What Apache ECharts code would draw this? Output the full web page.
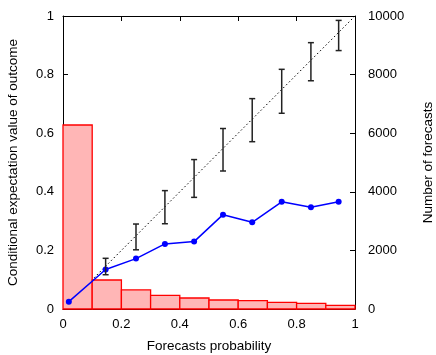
<!DOCTYPE html>
<html><head><meta charset="utf-8">
<script src="https://cdn.jsdelivr.net/npm/echarts@6/dist/echarts.min.js"></script>
<style>html,body{margin:0;padding:0;background:#fff}#c{width:436px;height:355px}</style>
</head><body><div id="c"></div>
<script>
// Histogram bins (forecast probability) and counts
var binStart = [0.0, 0.1, 0.2, 0.3, 0.4, 0.5, 0.6, 0.7, 0.8, 0.9];
var binEnd   = [0.1, 0.2, 0.3, 0.4, 0.5, 0.6, 0.7, 0.8, 0.9, 1.0];
var binCount = [6280, 990, 650, 465, 375, 307, 283, 225, 191, 123];
// Conditional expectation (blue line)
var probX = [0.02, 0.146, 0.25, 0.349, 0.449, 0.548, 0.648, 0.749, 0.849, 0.944];
var condY = [0.025, 0.135, 0.172, 0.222, 0.23, 0.322, 0.296, 0.366, 0.347, 0.366];
// Error bars around the diagonal
var errX  = [0.146, 0.25, 0.349, 0.449, 0.548, 0.648, 0.749, 0.849, 0.944];
var errLo = [0.117, 0.202, 0.291, 0.381, 0.471, 0.571, 0.668, 0.779, 0.882];
var errHi = [0.173, 0.290, 0.404, 0.510, 0.616, 0.718, 0.818, 0.909, 0.985];
var xTicks = ['0', '0.2', '0.4', '0.6', '0.8', '1'];
var rightTicks = ['0', '2000', '4000', '6000', '8000', '10000'];

var FONT = 'Liberation Sans, Arial, sans-serif';
var chart = echarts.init(document.getElementById('c'), null, {renderer: 'canvas'});
var histData = binStart.map(function (s, i) { return [s, binEnd[i], binCount[i]]; });
var lineData = probX.map(function (x, i) { return [x, condY[i]]; });
var errData = errX.map(function (x, i) { return [x, errLo[i], errHi[i]]; });

var axisLine = {show: true, onZero: false, lineStyle: {color: '#000', width: 1}};
var axisTick = {show: true, inside: true, length: 5, lineStyle: {color: '#000', width: 1}};
var lbl = {color: '#000', fontSize: 13, fontFamily: FONT};
var nameStyle = {color: '#000', fontSize: 13.5, fontFamily: FONT};

chart.setOption({
  animation: false,
  backgroundColor: '#fff',
  grid: {left: 63, right: 81, top: 16, bottom: 46, containLabel: false, outerBoundsMode: 'none'},
  xAxis: [{
    type: 'value', min: 0, max: 1, interval: 0.2, position: 'bottom',
    axisLine: axisLine, axisTick: axisTick, splitLine: {show: false},
    axisLabel: Object.assign({margin: 9, formatter: function (v) { return xTicks[Math.round(v / 0.2)]; }}, lbl),
    name: 'Forecasts probability', nameLocation: 'middle', nameGap: 30,
    nameTextStyle: nameStyle
  }, {
    type: 'value', min: 0, max: 1, interval: 0.2, position: 'top',
    axisLine: axisLine, axisTick: axisTick, splitLine: {show: false}, axisLabel: {show: false}
  }],
  yAxis: [{
    type: 'value', min: 0, max: 1, interval: 0.2, position: 'left',
    axisLine: axisLine, axisTick: axisTick, splitLine: {show: false},
    axisLabel: Object.assign({margin: 9}, lbl),
    name: 'Conditional expectation value of outcome', nameLocation: 'middle', nameGap: 43,
    nameTextStyle: nameStyle
  }, {
    type: 'value', min: 0, max: 10000, interval: 2000, position: 'right',
    axisLine: axisLine, axisTick: axisTick, splitLine: {show: false},
    axisLabel: Object.assign({margin: 13, formatter: function (v) { return rightTicks[Math.round(v / 2000)]; }}, lbl),
    name: 'Number of forecasts', nameLocation: 'middle', nameGap: 66,
    nameTextStyle: nameStyle
  }],
  series: [{
    type: 'line', xAxisIndex: 0, yAxisIndex: 0, z: 1,
    data: [[0, 0], [1, 1]], symbol: 'none',
    lineStyle: {color: '#000', width: 1, type: [1.5, 2.5]}
  }, {
    type: 'custom', xAxisIndex: 0, yAxisIndex: 1, z: 2,
    data: histData,
    encode: {x: [0, 1], y: 2},
    renderItem: function (params, api) {
      var p0 = api.coord([api.value(0), 0]);
      var p1 = api.coord([api.value(1), api.value(2)]);
      return {type: 'rect', shape: {x: p0[0], y: p1[1], width: p1[0] - p0[0], height: p0[1] - p1[1]},
        style: {fill: '#ffb6b6', stroke: '#ff0000', lineWidth: 1.3}};
    }
  }, {
    type: 'line', xAxisIndex: 0, yAxisIndex: 0, z: 4,
    data: lineData, symbol: 'circle', symbolSize: 6,
    itemStyle: {color: '#0000ff'},
    lineStyle: {color: '#0000ff', width: 1.5}
  }, {
    type: 'custom', xAxisIndex: 0, yAxisIndex: 0, z: 5,
    data: errData,
    encode: {x: 0, y: [1, 2]},
    renderItem: function (params, api) {
      var x = api.value(0);
      var lo = api.coord([x, api.value(1)]);
      var hi = api.coord([x, api.value(2)]);
      var w = 3;
      var st = {stroke: '#222', lineWidth: 1.5};
      return {type: 'group', children: [
        {type: 'line', shape: {x1: lo[0], y1: lo[1], x2: hi[0], y2: hi[1]}, style: st},
        {type: 'line', shape: {x1: lo[0] - w, y1: lo[1], x2: lo[0] + w, y2: lo[1]}, style: st},
        {type: 'line', shape: {x1: hi[0] - w, y1: hi[1], x2: hi[0] + w, y2: hi[1]}, style: st}
      ]};
    }
  }]
});
</script></body></html>
